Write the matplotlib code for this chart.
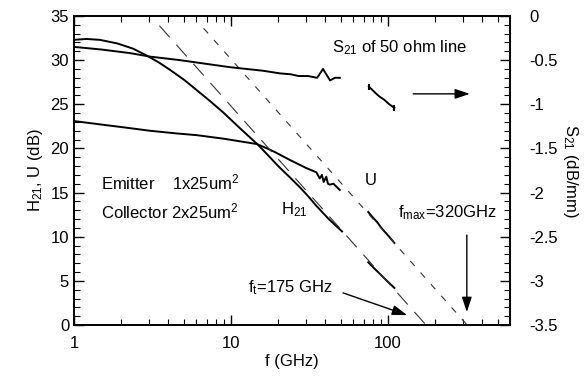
import matplotlib
matplotlib.use("Agg")
import matplotlib.pyplot as plt
from matplotlib.ticker import MultipleLocator, LogLocator, NullFormatter, FixedLocator, FixedFormatter

plt.rcParams['font.family'] = ['Liberation Sans', 'DejaVu Sans']
plt.rcParams['mathtext.fontset'] = 'custom'
plt.rcParams['mathtext.rm'] = 'Liberation Sans'
plt.rcParams['mathtext.it'] = 'Liberation Sans'
plt.rcParams['mathtext.bf'] = 'Liberation Sans:bold'

# ---- data ----
h21_f = [1.0, 1.2, 1.46, 1.88, 2.38, 2.92, 3.5, 4.09, 5.09, 6.35, 7.1, 8.9, 11.4, 14.9, 17.5, 20, 23.5, 27.5, 31, 35, 42, 51]
h21_db = [32.3, 32.4, 32.3, 31.9, 31.3, 30.5, 29.7, 28.9, 27.7, 26.3, 25.6, 24.1, 22.3, 20.4, 19.1, 18.0, 16.8, 15.6, 14.6, 13.5, 12.0, 10.6]

u_f = [1.0, 1.5, 2.27, 3.05, 4.5, 6.07, 9.0, 14.6, 17.0, 19.0, 23.7, 30.0, 35.0, 36.8, 38.0, 39.0, 40.5, 41.5, 42.7, 45.0, 49.4]
u_db = [23.1, 22.7, 22.3, 22.0, 21.7, 21.5, 21.1, 20.5, 20.0, 19.6, 18.7, 17.8, 17.3, 16.6, 17.0, 16.2, 16.8, 16.0, 15.9, 16.0, 15.3]

u_hi_f = [75.0, 80.0, 85.0, 90.0, 95.0, 102.0, 110.0]
u_hi_db = [12.8, 12.2, 11.7, 11.1, 10.6, 10.0, 9.3]

h21_hi_f = [75.0, 82.0, 90.0, 100.0, 110.0]
h21_hi_db = [7.1, 6.4, 5.7, 4.9, 4.2]

s21_f = [1.0, 1.5, 2.27, 3.05, 4.73, 6.83, 9.9, 16.0, 20.5, 24.0, 27.0, 31.0, 35.4, 37.0, 38.6, 40.5, 42.8, 46.0, 49.4]
s21_db = [-0.35, -0.38, -0.42, -0.46, -0.50, -0.54, -0.58, -0.62, -0.65, -0.66, -0.68, -0.68, -0.70, -0.65, -0.60, -0.66, -0.73, -0.70, -0.70]

s21_hi_f = [75.7, 82.0, 88.0, 95.0, 102.0, 110.0]
s21_hi_db = [-0.80, -0.86, -0.91, -0.95, -1.00, -1.04]

ft_line_f = [3.5, 175.0]
ft_line_db = [33.9, 0.0]
fmax_line_f = [6.7, 320.0]
fmax_line_db = [33.6, 0.0]

x_ticks = [1, 10, 100]
x_ticklabels = ['1', '10', '100']

# ---- figure ----
fig = plt.figure(figsize=(5.85, 3.77), dpi=100)
ax = fig.add_axes([74/585, 1-325/377, 436/585, 309/377])
ax2 = ax.twinx()

lw = 1.4
ax.plot(h21_f, h21_db, color='black', lw=lw)
ax.plot(u_f, u_db, color='black', lw=lw)
ax.plot(u_hi_f, u_hi_db, color='black', lw=lw)
ax.plot(h21_hi_f, h21_hi_db, color='black', lw=lw)
ax.plot(ft_line_f, ft_line_db, color='#333333', lw=0.8, dashes=(14, 9))
ax.plot(fmax_line_f, fmax_line_db, color='#333333', lw=0.8, dashes=(6, 8))

ax2.plot(s21_f, s21_db, color='black', lw=lw)
ax2.plot(s21_hi_f, s21_hi_db, color='black', lw=lw)
ax2.plot([s21_hi_f[0], s21_hi_f[-1]], [s21_hi_db[0], s21_hi_db[-1]], 'k|', ms=5, mew=1.5)

ax.set_xscale('log')
ax.set_xlim(1, 600)
ax.set_ylim(0, 35)
ax2.set_ylim(-3.5, 0)

ax.xaxis.set_major_locator(FixedLocator(x_ticks))
ax.xaxis.set_major_formatter(FixedFormatter(x_ticklabels))
ax.xaxis.set_minor_locator(LogLocator(base=10, subs=range(2, 10)))
ax.xaxis.set_minor_formatter(NullFormatter())
ax.yaxis.set_major_locator(MultipleLocator(5))
ax.yaxis.set_minor_locator(MultipleLocator(1))
ax2.yaxis.set_major_locator(MultipleLocator(0.5))
ax2.yaxis.set_minor_locator(MultipleLocator(0.1))
ax2.yaxis.set_major_formatter(matplotlib.ticker.FuncFormatter(lambda v, p: ('%g' % v)))

ax.tick_params(axis='both', which='both', direction='in', top=True, right=False, labelsize=12)
ax.tick_params(which='major', length=7, width=1.0)
ax.tick_params(which='minor', length=4, width=0.8)
ax.tick_params(axis='x', pad=8)
ax2.tick_params(axis='y', which='both', direction='in', labelsize=12, pad=14)
ax2.tick_params(which='major', length=7, width=1.0)
ax2.tick_params(which='minor', length=4, width=0.8)

for a in (ax, ax2):
    for s in a.spines.values():
        s.set_linewidth(1.2)

ax.set_xlabel('f (GHz)', fontsize=12, labelpad=2)
ax.set_ylabel('H$_{21}$, U (dB)', fontsize=12, labelpad=4)
ax2.set_ylabel('S$_{21}$ (dB/mm)', fontsize=12, rotation=-90, labelpad=16)

tkw = dict(transform=ax.transAxes, fontsize=12, va='center', ha='left')
ax.text(0.592, 0.896, 'S$_{21}$ of 50 ohm line', **tkw)
ax.text(0.062, 0.46, 'Emitter    1x25um$^2$', **tkw)
ax.text(0.062, 0.366, 'Collector 2x25um$^2$', **tkw)
ax.text(0.475, 0.372, 'H$_{21}$', **tkw)
ax.text(0.667, 0.469, 'U', **tkw)
ax.text(0.743, 0.362, 'f$_{max}$=320GHz', **tkw)
ax.text(0.399, 0.12, 'f$_t$=175 GHz', **tkw)

akw = dict(arrowstyle='-|>,head_length=0.9,head_width=0.3', color='black', lw=1.0, shrinkA=0, shrinkB=0)
ax.annotate('', xy=(0.908, 0.748), xytext=(0.778, 0.748), xycoords='axes fraction', arrowprops=akw)
ax.annotate('', xy=(0.764, 0.032), xytext=(0.617, 0.104), xycoords='axes fraction', arrowprops=akw)
ax.annotate('', xy=(0.901, 0.042), xytext=(0.901, 0.291), xycoords='axes fraction', arrowprops=akw)

fig.savefig('out.png', dpi=100)
